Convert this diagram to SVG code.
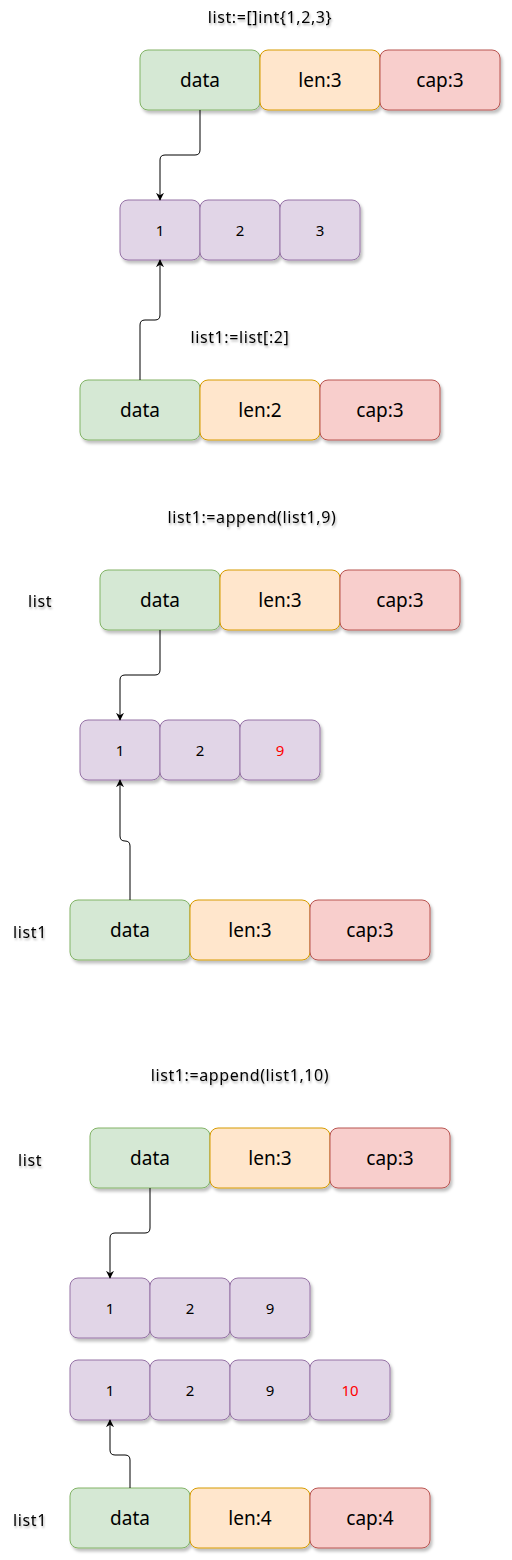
<svg xmlns="http://www.w3.org/2000/svg" width="512" height="1560" viewBox="0 0 512 1560">
<defs>
<filter id="sh" x="-10%" y="-10%" width="130%" height="140%">
<feDropShadow dx="2" dy="3" stdDeviation="1.5" flood-color="#000" flood-opacity="0.25"/>
</filter>
<filter id="tsh" x="-10%" y="-30%" width="130%" height="180%">
<feDropShadow dx="1" dy="2" stdDeviation="1.2" flood-color="#000" flood-opacity="0.3"/>
</filter>
<marker id="arr" viewBox="0 0 10 10" refX="9" refY="5" markerWidth="8" markerHeight="8" orient="auto" markerUnits="userSpaceOnUse">
<path d="M0 0 L10 5 L0 10 L3 5 Z" fill="#000"/>
</marker>
</defs>
<style>
text{font-family:"Comic Sans MS","Noto Sans","DejaVu Sans",sans-serif;fill:#000;text-anchor:middle;dominant-baseline:central}
.g rect,.o rect,.r rect,.p rect{filter:url(#sh)}
.g rect{fill:#d5e8d4;stroke:#82b366}
.o rect{fill:#ffe6cc;stroke:#d79b00}
.r rect{fill:#f8cecc;stroke:#b85450}
.p rect{fill:#e1d5e7;stroke:#9673a6}
.big{font-size:19px}
.sm{font-size:15px}
.lbl{font-size:16px;letter-spacing:0.6px;filter:url(#tsh)}
.red{fill:#ff0000}
.c path{fill:none;stroke:#000;stroke-width:1}
</style>

<text class="lbl" x="270" y="17">list:=[]int{1,2,3}</text>
<g id="s1-data" class="g"><rect x="140" y="50" width="120" height="60" rx="8"/><text class="big" x="200" y="80">data</text></g>
<g id="s1-len" class="o"><rect x="260" y="50" width="120" height="60" rx="8"/><text class="big" x="320" y="80">len:3</text></g>
<g id="s1-cap" class="r"><rect x="380" y="50" width="120" height="60" rx="8"/><text class="big" x="440" y="80">cap:3</text></g>
<g id="s1-a1" class="p"><rect x="120" y="200" width="80" height="60" rx="8"/><text class="sm" x="160" y="230">1</text></g>
<g id="s1-a2" class="p"><rect x="200" y="200" width="80" height="60" rx="8"/><text class="sm" x="240" y="230">2</text></g>
<g id="s1-a3" class="p"><rect x="280" y="200" width="80" height="60" rx="8"/><text class="sm" x="320" y="230">3</text></g>
<text class="lbl" x="240" y="337">list1:=list[:2]</text>
<g id="s1-l1-data" class="g"><rect x="80" y="380" width="120" height="60" rx="8"/><text class="big" x="140" y="410">data</text></g>
<g id="s1-l1-len" class="o"><rect x="200" y="380" width="120" height="60" rx="8"/><text class="big" x="260" y="410">len:2</text></g>
<g id="s1-l1-cap" class="r"><rect x="320" y="380" width="120" height="60" rx="8"/><text class="big" x="380" y="410">cap:3</text></g>

<text class="lbl" x="252" y="517">list1:=append(list1,9)</text>
<text class="lbl" x="40" y="601">list</text>
<g id="s2-data" class="g"><rect x="100" y="570" width="120" height="60" rx="8"/><text class="big" x="160" y="600">data</text></g>
<g id="s2-len" class="o"><rect x="220" y="570" width="120" height="60" rx="8"/><text class="big" x="280" y="600">len:3</text></g>
<g id="s2-cap" class="r"><rect x="340" y="570" width="120" height="60" rx="8"/><text class="big" x="400" y="600">cap:3</text></g>
<g id="s2-a1" class="p"><rect x="80" y="720" width="80" height="60" rx="8"/><text class="sm" x="120" y="750">1</text></g>
<g id="s2-a2" class="p"><rect x="160" y="720" width="80" height="60" rx="8"/><text class="sm" x="200" y="750">2</text></g>
<g id="s2-a3" class="p"><rect x="240" y="720" width="80" height="60" rx="8"/><text class="sm red" x="280" y="750">9</text></g>
<text class="lbl" x="30" y="932">list1</text>
<g id="s2-l1-data" class="g"><rect x="70" y="900" width="120" height="60" rx="8"/><text class="big" x="130" y="930">data</text></g>
<g id="s2-l1-len" class="o"><rect x="190" y="900" width="120" height="60" rx="8"/><text class="big" x="250" y="930">len:3</text></g>
<g id="s2-l1-cap" class="r"><rect x="310" y="900" width="120" height="60" rx="8"/><text class="big" x="370" y="930">cap:3</text></g>

<text class="lbl" x="240" y="1075">list1:=append(list1,10)</text>
<text class="lbl" x="30" y="1160">list</text>
<g id="s3-data" class="g"><rect x="90" y="1128" width="120" height="60" rx="8"/><text class="big" x="150" y="1158">data</text></g>
<g id="s3-len" class="o"><rect x="210" y="1128" width="120" height="60" rx="8"/><text class="big" x="270" y="1158">len:3</text></g>
<g id="s3-cap" class="r"><rect x="330" y="1128" width="120" height="60" rx="8"/><text class="big" x="390" y="1158">cap:3</text></g>
<g id="s3-a1" class="p"><rect x="70" y="1278" width="80" height="60" rx="8"/><text class="sm" x="110" y="1308">1</text></g>
<g id="s3-a2" class="p"><rect x="150" y="1278" width="80" height="60" rx="8"/><text class="sm" x="190" y="1308">2</text></g>
<g id="s3-a3" class="p"><rect x="230" y="1278" width="80" height="60" rx="8"/><text class="sm" x="270" y="1308">9</text></g>
<g id="s3-b1" class="p"><rect x="70" y="1360" width="80" height="60" rx="8"/><text class="sm" x="110" y="1390">1</text></g>
<g id="s3-b2" class="p"><rect x="150" y="1360" width="80" height="60" rx="8"/><text class="sm" x="190" y="1390">2</text></g>
<g id="s3-b3" class="p"><rect x="230" y="1360" width="80" height="60" rx="8"/><text class="sm" x="270" y="1390">9</text></g>
<g id="s3-b4" class="p"><rect x="310" y="1360" width="80" height="60" rx="8"/><text class="sm red" x="350" y="1390">10</text></g>
<text class="lbl" x="30" y="1520">list1</text>
<g id="s3-l1-data" class="g"><rect x="70" y="1488" width="120" height="60" rx="8"/><text class="big" x="130" y="1518">data</text></g>
<g id="s3-l1-len" class="o"><rect x="190" y="1488" width="120" height="60" rx="8"/><text class="big" x="250" y="1518">len:4</text></g>
<g id="s3-l1-cap" class="r"><rect x="310" y="1488" width="120" height="60" rx="8"/><text class="big" x="370" y="1518">cap:4</text></g>

<g id="connectors" class="c">
<path d="M200 110 V150 Q200 155 195 155 H165 Q160 155 160 160 V200" marker-end="url(#arr)"/>
<path d="M140 380 V325 Q140 320 145 320 H155 Q160 320 160 315 V260" marker-end="url(#arr)"/>
<path d="M160 630 V670 Q160 675 155 675 H125 Q120 675 120 680 V720" marker-end="url(#arr)"/>
<path d="M130 900 V846 Q130 841 125 841 Q120 841 120 836 V780" marker-end="url(#arr)"/>
<path d="M150 1188 V1228 Q150 1233 145 1233 H115 Q110 1233 110 1238 V1278" marker-end="url(#arr)"/>
<path d="M130 1488 V1460 Q130 1455 125 1455 H115 Q110 1455 110 1450 V1420" marker-end="url(#arr)"/>
</g>
</svg>
